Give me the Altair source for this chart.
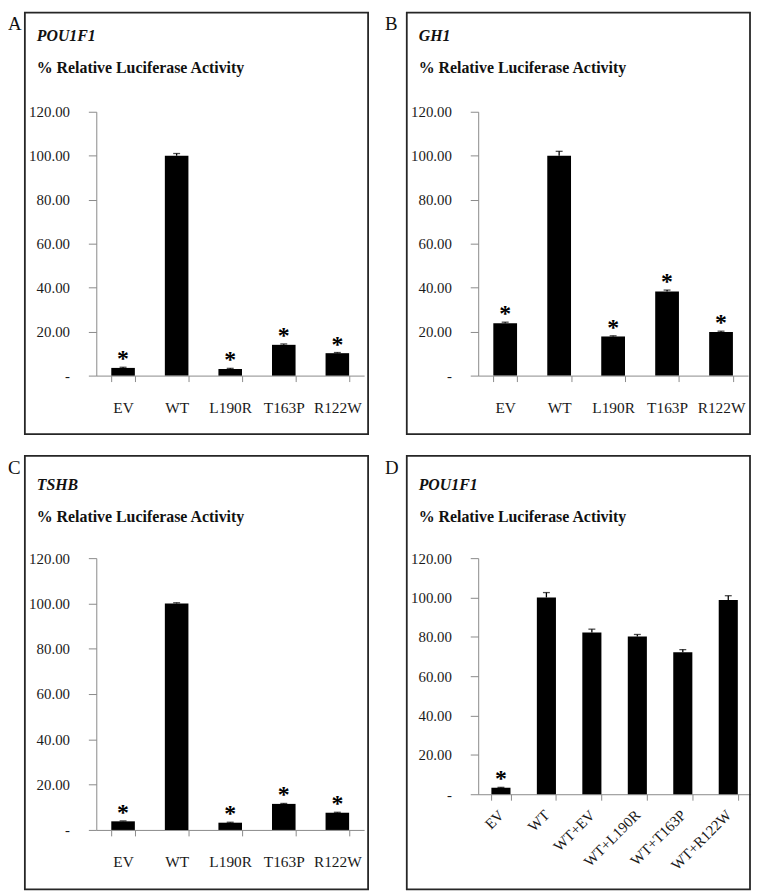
import altair as alt
import pandas as pd

FONT = "Liberation Serif, Times New Roman, serif"

# ---- data ----
cats5 = ["EV", "WT", "L190R", "T163P", "R122W"]
cats6 = ["EV", "WT", "WT+EV", "WT+L190R", "WT+T163P", "WT+R122W"]

a_vals = [3.5, 100.0, 3.0, 14.0, 10.2]
a_errs = [0.3, 1.0, 0.3, 0.4, 0.3]
a_star = [1, 0, 1, 1, 1]

b_vals = [23.8, 100.0, 17.8, 38.3, 19.8]
b_errs = [0.5, 2.0, 0.3, 0.6, 0.4]
b_star = [1, 0, 1, 1, 1]

c_vals = [3.8, 100.0, 3.2, 11.5, 7.6]
c_errs = [0.2, 0.3, 0.2, 0.2, 0.2]
c_star = [1, 0, 1, 1, 1]

d_vals = [3.3, 100.0, 82.2, 80.2, 72.2, 98.7]
d_errs = [0.2, 2.5, 1.7, 1.0, 1.3, 2.2]
d_star = [1, 0, 0, 0, 0, 0]

y_ticks = [0, 20, 40, 60, 80, 100, 120]
subtitle = "% Relative Luciferase Activity"

FRAME_L = -72
FRAME_W = 346

NBSP = "\u00a0"
label_expr = "datum.value == 0 ? '-" + NBSP * 2 + "' : format(datum.value, '.2f')"


def one(value):
    return pd.DataFrame({"t": [value]})


def panel(letter, gene, cats, vals, errs, stars, width, height, frame_top, frame_h,
          title_dy, sub_dy, letter_dx, pad, rotate=False):
    df = pd.DataFrame({"cat": cats, "val": vals, "err": errs, "star": stars})
    base = alt.Chart(df).transform_calculate(hi="datum.val + datum.err")

    if rotate:
        x_axis = alt.Axis(title=None, tickBand="extent", labelAngle=-45, labelAlign="right",
                          labelBaseline="middle", labelPadding=12, tickSize=6, labelFontSize=15)
    else:
        x_axis = alt.Axis(title=None, tickBand="extent", labelAngle=0, labelAlign="center",
                          labelBaseline="top", labelPadding=19, tickSize=6, labelFontSize=15.5)
    x = alt.X("cat:N", sort=cats, scale=alt.Scale(paddingInner=pad, paddingOuter=pad / 2), axis=x_axis)

    y_scale = alt.Scale(domain=[0, 120], nice=False, zero=True)
    y_axis = alt.Axis(title=None, values=y_ticks, labelExpr=label_expr, tickSize=8,
                      labelPadding=19, labelFontSize=15)

    def Y(f):
        return alt.Y(f, type="quantitative", scale=y_scale, axis=y_axis)

    bars = base.mark_bar(color="black").encode(x=x, y=Y("val"))
    rule = base.mark_rule(color="black", strokeWidth=1.3).encode(x=x, y=Y("val"), y2="hi:Q")
    cap = base.mark_tick(color="black", thickness=1.3, size=7).encode(x=x, y=Y("hi"))
    star = base.transform_filter("datum.star == 1").mark_text(
        text="*", font=FONT, fontSize=24, fontWeight="bold", color="black",
        baseline="alphabetic", dy=-1).encode(x=x, y=Y("hi"))

    frame = alt.Chart(one(letter)).mark_rect(
        fillOpacity=0, stroke="#262626", strokeWidth=1.8).encode(
        x=alt.value(FRAME_L), x2=alt.value(FRAME_L + FRAME_W),
        y=alt.value(frame_top), y2=alt.value(frame_top + frame_h))
    letter_t = alt.Chart(one(letter)).mark_text(
        font=FONT, fontSize=19, align="left", baseline="top", color="#111").encode(
        x=alt.value(FRAME_L - letter_dx), y=alt.value(frame_top + 3), text="t:N")
    gene_t = alt.Chart(one(gene)).mark_text(
        font=FONT, fontSize=16, fontStyle="italic", fontWeight="bold", align="left",
        baseline="alphabetic", color="#111").encode(
        x=alt.value(FRAME_L + 12), y=alt.value(frame_top + title_dy), text="t:N")
    sub_t = alt.Chart(one(subtitle)).mark_text(
        font=FONT, fontSize=16, fontWeight="bold", align="left",
        baseline="alphabetic", color="#111").encode(
        x=alt.value(FRAME_L + 12), y=alt.value(frame_top + sub_dy), text="t:N")

    return alt.layer(frame, letter_t, gene_t, sub_t, bars, rule, cap, star).properties(
        width=width, height=height)


A = panel("A", "POU1F1", cats5, a_vals, a_errs, a_star, 270, 266, -100, 425, 29, 61, 17, 0.56)
B = panel("B", "GH1", cats5, b_vals, b_errs, b_star, 272, 266, -100, 425, 29, 61, 22, 0.56)
C = panel("C", "TSHB", cats5, c_vals, c_errs, c_star, 270, 274, -103, 437, 34, 67, 17, 0.56)
D = panel("D", "POU1F1", cats6, d_vals, d_errs, d_star, 275, 238, -103, 437, 34, 67, 22, 0.58,
          rotate=True)

top = alt.hconcat(A, B, spacing=16).resolve_scale(x="independent", y="independent")
bottom = alt.hconcat(C, D, spacing=16).resolve_scale(x="independent", y="independent")

chart = alt.vconcat(top, bottom, spacing=20).resolve_scale(
    x="independent", y="independent"
).properties(
    padding={"left": 0, "top": 0, "right": 0, "bottom": 0},
    background="white",
).configure_view(
    strokeWidth=0
).configure_axis(
    labelFont=FONT, labelColor="#1a1a1a", domainColor="#8a8a8a", tickColor="#8a8a8a",
    domainWidth=1, tickWidth=1, grid=False,
)

chart.save("out.html", embed_options={"renderer": "svg", "actions": False})
